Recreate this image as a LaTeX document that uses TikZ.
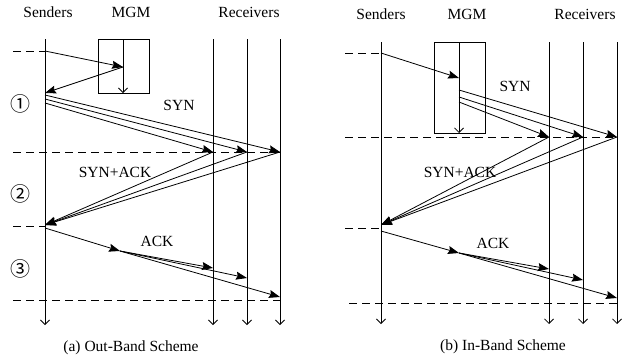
\documentclass[tikz,border=0pt]{standalone}
\usepackage{fontspec}
\setmainfont{Liberation Serif}
\newfontfamily\cjk{Noto Sans CJK SC}
\usetikzlibrary{arrows.meta}
\begin{document}
\begin{tikzpicture}[x=1pt,y=-1pt,
  life/.style={line width=0.8pt,-{Straight Barb[length=4.5pt,width=9pt]}},
  msg/.style={line width=0.8pt,-{Stealth[length=11pt,width=8pt,inset=1.5pt]}},
  dashline/.style={line width=0.8pt,dash pattern=on 8pt off 5pt},
  lbl/.style={font=\fontsize{15.5}{18}\selectfont,inner sep=0pt},
  circ/.style={font=\cjk\fontsize{20}{22}\selectfont,inner sep=0pt},
  boxn/.style={draw,line width=0.8pt,inner sep=0pt,anchor=north west}]
\useasboundingbox (0,0) rectangle (629,362);

% ================= Panel (a) =================
\node[lbl] (aSen) at (48,12) {Senders};
\node[lbl] (aMGM) at (131,12) {MGM};
\node[lbl] (aRec) at (249,12) {Receivers};

\node[boxn,minimum width=51pt,minimum height=54pt] (aBox) at (98,39) {};

\coordinate (aS0) at (45,39);  \coordinate (aS1) at (45,325);
\coordinate (aR1a) at (213,39); \coordinate (aR1b) at (213,325);
\coordinate (aR2a) at (247,39); \coordinate (aR2b) at (247,325);
\coordinate (aR3a) at (280,39); \coordinate (aR3b) at (280,325);
\coordinate (aM0) at (123,39); \coordinate (aM1) at (123,93);
\draw[life] (aS0) -- (aS1);
\draw[life] (aR1a) -- (aR1b);
\draw[life] (aR2a) -- (aR2b);
\draw[life] (aR3a) -- (aR3b);
\draw[life] (aM0) -- (aM1);

% step 1
\coordinate (aD0) at (13,51); \coordinate (aD0e) at (45,51);
\draw[dashline] (aD0) -- (aD0e);
\coordinate (aMq) at (123,67);
\draw[msg] (aD0e) -- (aMq);
\coordinate (aSq) at (45,93);
\draw[msg] (aMq) -- (aSq);
\coordinate (aY1) at (45,95); \coordinate (aY2) at (45,99); \coordinate (aY3) at (45,103);
\coordinate (aK1) at (213,152); \coordinate (aK2) at (247,152); \coordinate (aK3) at (280,152);
\draw[msg] (aY1) -- (aK3);
\draw[msg] (aY2) -- (aK2);
\draw[msg] (aY3) -- (aK1);
\node[lbl] (aSYN) at (179,105) {SYN};
\coordinate (aD1) at (13,152);
\draw[dashline] (aD1) -- (aK3);
\node[circ] (aC1) at (20,104) {①};

% step 2
\coordinate (aSA) at (45,225);
\draw[msg] (aK1) -- (aSA);
\draw[msg] (aK2) -- (aSA);
\draw[msg] (aK3) -- (aSA);
\node[lbl] (aSYNACK) at (115,172) {SYN+ACK};
\coordinate (aD2) at (13,226); \coordinate (aD2e) at (45,226);
\draw[dashline] (aD2) -- (aD2e);
\node[circ] (aC2) at (20,194) {②};

% step 3
\coordinate (aA0) at (45,228); \coordinate (aAm) at (120,251);
\coordinate (aA1) at (213,268); \coordinate (aA2) at (247,278); \coordinate (aA3) at (280,297);
\draw[msg] (aA0) -- (aAm);
\draw[msg] (aAm) -- (aA1);
\draw[msg] (aAm) -- (aA2);
\draw[msg] (aAm) -- (aA3);
\node[lbl] (aACK) at (157,241) {ACK};
\coordinate (aD3) at (13,300); \coordinate (aD3e) at (280,300);
\draw[dashline] (aD3) -- (aD3e);
\node[circ] (aC3) at (20,269) {③};

\node[lbl] (aCap) at (131,348) {(a) Out-Band Scheme};

% ================= Panel (b) =================
\node[lbl] (bSen) at (381,14) {Senders};
\node[lbl] (bMGM) at (467,14) {MGM};
\node[lbl] (bRec) at (585,14) {Receivers};

\node[boxn,minimum width=51pt,minimum height=91pt] (bBox) at (434,42) {};

\coordinate (bS0) at (381,42);  \coordinate (bS1) at (381,324);
\coordinate (bR1a) at (549,42); \coordinate (bR1b) at (549,324);
\coordinate (bR2a) at (583,42); \coordinate (bR2b) at (583,324);
\coordinate (bR3a) at (617,42); \coordinate (bR3b) at (617,324);
\coordinate (bM0) at (459,42); \coordinate (bM1) at (459,133);
\draw[life] (bS0) -- (bS1);
\draw[life] (bR1a) -- (bR1b);
\draw[life] (bR2a) -- (bR2b);
\draw[life] (bR3a) -- (bR3b);
\draw[life] (bM0) -- (bM1);

\coordinate (bD0) at (345,53); \coordinate (bD0e) at (381,53);
\draw[dashline] (bD0) -- (bD0e);
\coordinate (bMq) at (459,78);
\draw[msg] (bD0e) -- (bMq);
\coordinate (bY1) at (459,90); \coordinate (bY2) at (459,97); \coordinate (bY3) at (459,102);
\coordinate (bK1) at (549,137); \coordinate (bK2) at (583,137); \coordinate (bK3) at (617,137);
\draw[msg] (bY1) -- (bK3);
\draw[msg] (bY2) -- (bK2);
\draw[msg] (bY3) -- (bK1);
\node[lbl] (bSYN) at (515,86) {SYN};
\coordinate (bD1) at (345,137);
\draw[dashline] (bD1) -- (bK3);

\coordinate (bSA) at (381,225);
\draw[msg] (bK1) -- (bSA);
\draw[msg] (bK2) -- (bSA);
\draw[msg] (bK3) -- (bSA);
\node[lbl] (bSYNACK) at (460,172) {SYN+ACK};
\coordinate (bD2) at (345,228); \coordinate (bD2e) at (381,228);
\draw[dashline] (bD2) -- (bD2e);

\coordinate (bA0) at (381,231); \coordinate (bAm) at (459,253);
\coordinate (bA1) at (549,269); \coordinate (bA2) at (583,280); \coordinate (bA3) at (617,298);
\draw[msg] (bA0) -- (bAm);
\draw[msg] (bAm) -- (bA1);
\draw[msg] (bAm) -- (bA2);
\draw[msg] (bAm) -- (bA3);
\node[lbl] (bACK) at (493,243) {ACK};
\coordinate (bD3) at (349,303); \coordinate (bD3e) at (617,303);
\draw[dashline] (bD3) -- (bD3e);

\node[lbl] (bCap) at (503,347) {(b) In-Band Scheme};
\end{tikzpicture}
\end{document}
